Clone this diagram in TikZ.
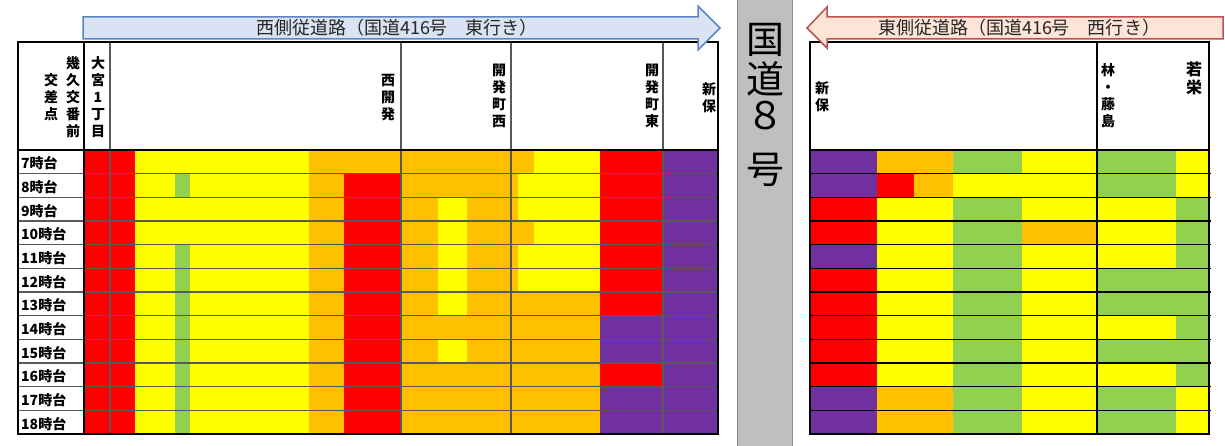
\documentclass[tikz,border=0pt]{standalone}
\usepackage{fontspec}
\newfontfamily\jp{Noto Sans CJK JP}
\definecolor{cR}{HTML}{FF0000}
\definecolor{cY}{HTML}{FFFF00}
\definecolor{cO}{HTML}{FFC000}
\definecolor{cG}{HTML}{92D050}
\definecolor{cP}{HTML}{7030A0}
\definecolor{gridgray}{HTML}{595959}
\definecolor{eastfill}{HTML}{DAE3F3}
\definecolor{eastline}{HTML}{5B86C5}
\definecolor{westfill}{HTML}{FCE4D6}
\definecolor{westline}{HTML}{C0504D}
\definecolor{barfill}{HTML}{BFBFBF}
\definecolor{barline}{HTML}{8C8C8C}
\tikzset{
  vlabel/.style={align=center, inner sep=0pt, font=\jp\bfseries\fontsize{14}{17}\selectfont},
  hourlabel/.style={anchor=west, inner sep=0pt, font=\jp\bfseries\fontsize{14}{14}\selectfont},
  roadtitle/.style={inner sep=0pt, text=black!85, font=\jp\fontsize{18}{18}\selectfont},
  routechar/.style={inner sep=0pt, font=\jp\fontsize{38}{38}\selectfont},
  thinrule/.style={draw=gridgray, line width=1.2pt},
  darkrule/.style={draw=black, line width=1.3pt},
  thickrule/.style={draw=black, line width=2.2pt},
}

\begin{document}
\begin{tikzpicture}[x=1pt,y=-1pt]
    \useasboundingbox (0,0) rectangle (1225,446);

    % west side cells
    \foreach \cols [count=\i from 0] in {
        {cR,cR,cY,cY,cY,cO,cO,cO,cO,cO,cO,cO,cY,cR,cP},
        {cR,cR,cY,cG,cY,cO,cR,cO,cO,cO,cO,cY,cY,cR,cP},
        {cR,cR,cY,cY,cY,cO,cR,cO,cY,cO,cO,cY,cY,cR,cP},
        {cR,cR,cY,cY,cY,cO,cR,cO,cY,cO,cO,cO,cY,cR,cP},
        {cR,cR,cY,cG,cY,cO,cR,cO,cY,cO,cO,cY,cY,cR,cP},
        {cR,cR,cY,cG,cY,cO,cR,cO,cY,cO,cO,cY,cY,cR,cP},
        {cR,cR,cY,cG,cY,cO,cR,cO,cY,cO,cO,cO,cO,cR,cP},
        {cR,cR,cY,cG,cY,cO,cR,cO,cO,cO,cO,cO,cO,cP,cP},
        {cR,cR,cY,cG,cY,cO,cR,cO,cY,cO,cO,cO,cO,cP,cP},
        {cR,cR,cY,cG,cY,cO,cR,cO,cO,cO,cO,cO,cO,cR,cP},
        {cR,cR,cY,cG,cY,cO,cR,cO,cO,cO,cO,cO,cO,cP,cP},
        {cR,cR,cY,cG,cY,cO,cR,cO,cO,cO,cO,cO,cO,cP,cP}}{
        \foreach \cellcol [count=\j from 0] in \cols {
            \pgfmathsetmacro\xa{{85,110,135,175,190,309,344,401,438,467,511,518,534,600,663}[\j]}
            \pgfmathsetmacro\xb{{110,135,175,190,309,344,401,438,467,511,518,534,600,663,718}[\j]}
            \fill[\cellcol] (\xa,150+23.667*\i) rectangle (\xb,173.667+23.667*\i);
        }
    }

    % east side cells
    \foreach \cols [count=\i from 0] in {
        {cP,cO,cO,cG,cY,cG,cY},
        {cP,cR,cO,cY,cY,cG,cY},
        {cR,cY,cY,cG,cY,cY,cG},
        {cR,cY,cY,cG,cO,cY,cG},
        {cP,cY,cY,cG,cY,cY,cG},
        {cR,cY,cY,cG,cY,cG,cG},
        {cR,cY,cY,cG,cY,cG,cG},
        {cR,cY,cY,cG,cY,cY,cG},
        {cR,cY,cY,cG,cY,cG,cG},
        {cR,cY,cY,cG,cY,cY,cG},
        {cP,cO,cO,cG,cY,cG,cY},
        {cP,cO,cO,cG,cY,cG,cY}}{
        \foreach \cellcol [count=\j from 0] in \cols {
            \pgfmathsetmacro\xa{{810,877,914,953,1022,1097,1176}[\j]}
            \pgfmathsetmacro\xb{{877,914,953,1022,1097,1176,1209}[\j]}
            \fill[\cellcol] (\xa,150+23.667*\i) rectangle (\xb,173.667+23.667*\i);
        }
    }

    % hour labels
    \foreach \h [count=\i from 0] in {7,...,18}
        \node[hourlabel] (hour\h) at (21,163.3+23.667*\i) {\h 時台};

    % west grid
    \foreach \i in {1,...,11}
        \draw[thinrule] (18,150+23.667*\i) -- (718,150+23.667*\i);
    \foreach \x in {110,401,511,663}
        \draw[thinrule] (\x,42) -- (\x,434);
    \draw[thickrule] (18,42) rectangle (718,434);
    \draw[thickrule] (18,150) -- (718,150);
    \draw[thickrule] (84,42) -- (84,434);

    % east grid
    \foreach \i in {1,...,11}
        \draw[darkrule] (810,150+23.667*\i) -- (1211,150+23.667*\i);
    \draw[darkrule] (1097,42) -- (1097,150);
    \draw[thickrule] (810,42) rectangle (1209,434);
    \draw[thickrule] (810,150) -- (1209,150);
    \draw[thickrule] (1097,150) -- (1097,434);

    % header labels
    \node[vlabel] (kosaten)  at (51,97)    {交\\差\\点};
    \node[vlabel] (ikuhisa)  at (73,97.5)  {幾\\久\\交\\番\\前};
    \node[vlabel] (omiya)    at (98,97.5)  {大\\宮\\1\\丁\\目};
    \node[vlabel] (nishikai) at (388,97.5) {西\\開\\発};
    \node[vlabel] (kaiwest)  at (499,95.5) {開\\発\\町\\西};
    \node[vlabel] (kaieast)  at (652,95.5) {開\\発\\町\\東};
    \node[vlabel] (shinbow)  at (709,97.5) {新\\保};
    \node[vlabel] (shinboe)  at (822,97)   {新\\保};
    \node[vlabel] (hayashi)  at (1108,95.5) {林\\・\\藤\\島};
    \node[vlabel, font=\jp\bfseries\fontsize{16}{18}\selectfont] (wakasakae) at (1194,78.5) {若\\栄};

    % route 8 bar
    \draw[barline, fill=barfill, line width=1pt] (737.5,-1) rectangle (792,447);
    \foreach \ch/\y [count=\k] in {国/40,道/79,８/116,号/170}
        \node[routechar] (route\k) at (765,\y) {\ch};

    % direction arrows
    \draw[eastline, fill=eastfill, line width=1.5pt]
        (83,17) -- (698,17) -- (698,6) -- (720,28) -- (698,50) -- (698,39) -- (83,39) -- cycle;
    \node[roadtitle] (easttitle) at (397,28) {西側従道路（国道416号　東行き）};
    \draw[westline, fill=westfill, line width=1.5pt]
        (807,28) -- (827,7) -- (827,17) -- (1223,17) -- (1223,39) -- (827,39) -- (827,48) -- cycle;
    \node[roadtitle] (westtitle) at (1019,28) {東側従道路（国道416号　西行き）};
\end{tikzpicture}
\end{document}
